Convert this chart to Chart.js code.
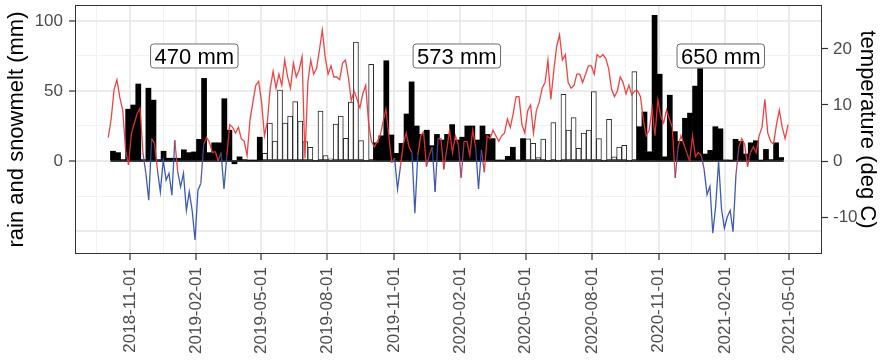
<!DOCTYPE html>
<html>
<head>
<meta charset="utf-8">
<script src="https://cdn.jsdelivr.net/npm/chart.js@4.4.1/dist/chart.umd.min.js"></script>
<style>
  html, body { margin: 0; padding: 0; background: #ffffff; }
  #wrap { width: 883px; height: 360px; }
</style>
</head>
<body>
<div id="wrap"><canvas id="chart" width="883" height="360"></canvas></div>
<script>
// ---- data -------------------------------------------------------------
// Weekly rain + snowmelt (mm); first week starts on firstWeekStart.
const firstWeekStart = '2018-10-05';
const weeklyMm = [
  7, 6, 1, 37, 40, 55, 1, 52, 43.5, 1, 7, 2, 2, 2, 8, 6, 6.5, 15.5, 59, 6,
  13, 13, 44.5, 22, -2, 3, 1, 0.5, 0.5, 17,
  5.5, 27, 14.3, 50.7, 27, 32, 42.4, 28.5, 13.8, 9.8, 0.5, 35.7, 3.8, 1.5, 26.4,
  32, 16.2, 42, 85, 14.5, 0.5, 69,
  13, 18, 71.6, 18.6, 5.5, 12.6, 33.6, 56.5, 25, 19, 22, 11, 19, 15, 19, 26, 15,
  17, 25, 25, 15, 25, 19, 16, 0.5, 0.5, 3.3, 9.8, 0.8, 16,
  15.8, 12.6, 2.5, 15.7, 0.3, 27.4, 0.3, 47.6, 22, 31, 9, 20, 22, 49.5, 16, 0.3,
  29.8, 3, 10, 11.2, 0.3, 63.8,
  24.5, 35, 6.6, 104, 62, 3, 47, 21, 14, 30.5, 34.2, 53.5, 66, 5, 7.6, 24.5, 23,
  0.8, 0.5, 15.5, 14, 5, 13, 14.5, 0.5, 8.3, 1, 13, 2.5
];
// Week index ranges (inclusive) of the summer seasons (open bars).
const summerWeekRanges = [[30, 51], [82, 103]];

// Season totals are written at these dates, at this height (mm).
const totalLabelDates = ['2019-01-29', '2020-01-27', '2021-01-26'];
const totalLabelMm = 75;

// Air temperature (deg C), one value every tempStepDays from tempStart.
const tempStart = '2018-10-02';
const tempStepDays = 4;
const tempC = [
  4.2, 7.5, 12.7, 14.5, 11.3, 9.1, 1.9, -0.7, 4.9, 6.7, 8.5, 9.4, 1.4, -2.2, -7.0, 4.0,
  3.1, -1.6, -5.5, 0.2, -3.4, -2.2, -6.1, 3.7, -1.9, -4.6, -2.2, -8.8, -5.5, -8.8, -14.1, -5.2,
  -4.0, 3.0, 4.2, 3.3, 1.5, 1.7, 0.0, 1.5, -5.0, 1.0, 6.5, 6.0, 5.0, 6.0, 4.0, 3.5, 1.0,
  7.3, 10.5, 13.5, 14.2, 10.5, 4.5, 7.0, 13.0, 16.0, 13.0, 15.5, 13.5, 18.0, 15.0, 13.0, 17.5, 15.0,
  16.3, 18.6, 0.5, 14.0, 18.0, 15.5, 16.5, 19.8, 23.4, 18.5, 15.5, 17.0, 15.0, 15.0, 14.5, 17.5,
  18.0, 15.0, 10.8, 12.5, 11.0, 9.5, 12.0, 13.5, 6.8, 3.5, 2.5, 3.5, 4.5, 7.0, 9.3, 4.5, -0.3, 0.5, -5.0,
  -1.0, 3.0, 5.0, 2.5, 1.5, -9.3, 1.0, 4.5, 5.2, -1.0, 1.0, 2.5, -5.5, 4.0, 4.0, -1.5, 2.0, 5.5,
  1.5, 4.5, 3.0, -3.0, 3.5, 3.5, 1.0, 5.5, 2.5, -5.0, 2.0, -2.0, 4.5, 4.0, 5.5, 4.5, 3.5,
  4.5, 5.0, 7.5, 6.0, 8.5, 11.5, 11.5, 6.5, 5.0, 9.0, 10.0, 5.0, 9.0, 10.5, 13.0, 14.0, 18.0,
  11.0, 16.0, 20.4, 22.5, 18.0, 19.0, 14.0, 13.0, 13.5, 15.5, 15.5, 14.0, 15.5, 17.0, 17.0, 15.5, 19.0, 18.5,
  19.0, 18.3, 16.5, 12.8, 11.5, 12.5, 15.0, 14.0, 12.0, 13.5, 11.8, 12.5, 12.5, 11.5, 7.3, 4.5, 5.5,
  9.5, 4.5, 11.0, 8.0, 6.8, 9.1, 7.5, 6.0, -3.0, 2.5, 4.5, 3.0, 1.5, 0.0, 4.5, 0.8, 1.5,
  1.0, -1.5, -6.0, -4.5, -12.9, -8.0, 0.0, -8.5, -12.0, -10.0, -8.8, -12.6, -2.5, 2.5, 4.0, 3.0,
  -1.0, 1.5, 2.5, 1.5, 4.5, 6.0, 11.0, 5.0, 3.5, 3.0, 6.5, 9.1, 6.0, 4.0, 6.5
];

// Axis breaks and ranges.
const quarterBreaks = ['2018-08-01', '2018-11-01', '2019-02-01', '2019-05-01', '2019-08-01',
  '2019-11-01', '2020-02-01', '2020-05-01', '2020-08-01', '2020-11-01', '2021-02-01',
  '2021-05-01', '2021-08-01'];
const xLimits = ['2018-08-17', '2021-06-15'];
const rainLimits = [-66.4, 111.4];
const rainBreaks = [-50, -25, 0, 25, 50, 75, 100];
const rainLabelled = [0, 50, 100];
const tempBreaks = [-10, 0, 10, 20];
const mmPerDegree = 4;

// ---- helpers ----------------------------------------------------------
const DAY = 86400000;
const ORIGIN = Date.UTC(2018, 10, 1);
function dayOf(s) {
  const [y, m, d] = s.split('-').map(Number);
  return (Date.UTC(y, m - 1, d) - ORIGIN) / DAY;
}
function isoDate(v) {
  return new Date(ORIGIN + Math.round(v) * DAY).toISOString().slice(0, 10);
}
const xMin = dayOf(xLimits[0]);
const xMax = dayOf(xLimits[1]);
const majorDays = quarterBreaks.map(dayOf);
const minorDays = majorDays.slice(1).map((d, i) => (d + majorDays[i]) / 2);
const xTickDays = majorDays.concat(minorDays).filter(d => d >= xMin && d <= xMax).sort((a, b) => a - b);
const isMajorDay = v => majorDays.some(d => Math.abs(d - v) < 0.01);

const weekCenter0 = dayOf(firstWeekStart) + 3.5;
const weekDays = weeklyMm.map((_, i) => weekCenter0 + 7 * i);
const isSummer = i => summerWeekRanges.some(([a, b]) => i >= a && i <= b);
const winterBars = weeklyMm.map((v, i) => ({ x: weekDays[i], y: isSummer(i) ? null : v }));
const summerBars = weeklyMm.map((v, i) => ({ x: weekDays[i], y: isSummer(i) ? v : null }));
const baseline = [{ x: weekDays[0] - 3.5, y: 0 }, { x: weekDays[weekDays.length - 1] + 3.5, y: 0 }];

// Winter blocks lie between the summer ranges; their sums are the labels.
const winterTotals = [];
{
  let start = 0;
  const ends = summerWeekRanges.map(r => r[0]).concat([weeklyMm.length]);
  ends.forEach((end, k) => {
    winterTotals.push(weeklyMm.slice(start, end).reduce((s, v) => s + v, 0));
    start = k < summerWeekRanges.length ? summerWeekRanges[k][1] + 1 : end;
  });
}

const t0 = dayOf(tempStart);
const tempPoints = tempC.map((v, k) => ({ x: t0 + tempStepDays * k, y: v }));

function tempColour(t) {
  const f = Math.max(0, Math.min(1, (t + 1) / 2));
  const r = Math.round(45 + (238 - 45) * f);
  const g = Math.round(78 + (52 - 78) * f);
  const b = Math.round(176 + (52 - 176) * f);
  return `rgba(${r},${g},${b},0.92)`;
}

// Fixed axis sizes so the plotting panel sits at a set place.
function noPadding(s) {
  s.paddingTop = 0; s.paddingBottom = 0; s.paddingLeft = 0; s.paddingRight = 0;
}

// ---- chart ------------------------------------------------------------
const FONT = '"Liberation Sans", Arial, Helvetica, sans-serif';
Chart.defaults.font.family = FONT;

const totalsLabels = {
  id: 'totalsLabels',
  afterDatasetsDraw(chart) {
    const { ctx, scales: { x, y } } = chart;
    ctx.save();
    ctx.font = '22px ' + FONT;
    winterTotals.forEach((mm, k) => {
      const text = Math.round(mm) + ' mm';
      const cx = x.getPixelForValue(dayOf(totalLabelDates[k]));
      const cy = y.getPixelForValue(totalLabelMm);
      const w = ctx.measureText(text).width + 8;
      const h = 24;
      ctx.beginPath();
      ctx.roundRect(cx - w / 2, cy - h / 2, w, h, 3);
      ctx.fillStyle = '#ffffff';
      ctx.fill();
      ctx.lineWidth = 1;
      ctx.strokeStyle = '#6b6b6b';
      ctx.stroke();
      ctx.fillStyle = '#000000';
      ctx.textAlign = 'center';
      ctx.textBaseline = 'alphabetic';
      ctx.fillText(text, cx, cy + 8.5);
    });
    ctx.restore();
  }
};

const panelBorder = {
  id: 'panelBorder',
  afterDraw(chart) {
    const { ctx, chartArea: a } = chart;
    ctx.save();
    ctx.strokeStyle = '#333333';
    ctx.lineWidth = 1;
    ctx.strokeRect(Math.round(a.left) + 0.5, Math.round(a.top) + 0.5,
      Math.round(a.right - a.left) - 1, Math.round(a.bottom - a.top) - 1);
    ctx.restore();
  }
};

new Chart(document.getElementById('chart'), {
  type: 'bar',
  data: {
    datasets: [
      {
        type: 'line', label: 'temperature', data: tempPoints, yAxisID: 'yT',
        borderWidth: 1.3, pointRadius: 0, tension: 0, order: 0,
        borderColor: '#ee3434',
        segment: { borderColor: c => tempColour((c.p0.parsed.y + c.p1.parsed.y) / 2) }
      },
      {
        type: 'line', label: 'zero', data: baseline, yAxisID: 'y',
        borderColor: '#000000', borderWidth: 1.5, pointRadius: 0, order: 1
      },
      {
        label: 'winter', data: winterBars, yAxisID: 'y', grouped: false,
        barPercentage: 1, categoryPercentage: 1,
        backgroundColor: '#000000', borderColor: '#000000', borderWidth: 0, order: 2
      },
      {
        label: 'summer', data: summerBars, yAxisID: 'y', grouped: false,
        barPercentage: 1, categoryPercentage: 1,
        backgroundColor: '#ffffff', borderColor: '#2a2a2a', borderWidth: 1,
        borderSkipped: false, order: 3
      }
    ]
  },
  options: {
    responsive: false,
    animation: false,
    devicePixelRatio: 1,
    layout: { padding: { top: 5, left: 0, right: 0, bottom: 0 } },
    plugins: { legend: { display: false }, tooltip: { enabled: false } },
    scales: {
      x: {
        type: 'linear', position: 'bottom', min: xMin, max: xMax, offset: false,
        afterBuildTicks: s => { s.ticks = xTickDays.map(v => ({ value: v })); },
        afterFit: s => { s.height = 106; noPadding(s); },
        border: { display: false },
        grid: {
          offset: false,
          color: c => (c.tick && isMajorDay(c.tick.value)) ? '#ebebeb' : '#f1f1f1',
          lineWidth: c => (c.tick && isMajorDay(c.tick.value)) ? 2 : 1,
          tickLength: 6,
          tickWidth: 1.2,
          tickColor: c => (c.tick && isMajorDay(c.tick.value)) ? '#333333' : 'rgba(0,0,0,0)'
        },
        ticks: {
          autoSkip: false, minRotation: 90, maxRotation: 90, padding: 7,
          color: '#4d4d4d', font: { size: 17 },
          callback: v => isMajorDay(v) ? isoDate(v) : ''
        }
      },
      y: {
        type: 'linear', position: 'left', min: rainLimits[0], max: rainLimits[1],
        afterBuildTicks: s => { s.ticks = rainBreaks.map(v => ({ value: v })); },
        afterFit: s => { s.width = 75; noPadding(s); },
        border: { display: false },
        grid: {
          color: c => (c.tick && c.tick.value % 50 === 0) ? '#ebebeb' : '#f1f1f1',
          lineWidth: c => (c.tick && c.tick.value % 50 === 0) ? 2 : 1,
          tickLength: 6,
          tickWidth: 1.2,
          tickColor: c => (c.tick && rainLabelled.includes(c.tick.value)) ? '#333333' : 'rgba(0,0,0,0)'
        },
        ticks: {
          padding: 6, color: '#4d4d4d', font: { size: 17 },
          callback: v => rainLabelled.includes(v) ? String(v) : ''
        },
        title: {
          display: true, text: 'rain and snowmelt (mm)', color: '#000000',
          font: { size: 22 }, padding: { top: 4, bottom: 0 }
        }
      },
      yT: {
        type: 'linear', position: 'right',
        min: rainLimits[0] / mmPerDegree, max: rainLimits[1] / mmPerDegree,
        afterBuildTicks: s => { s.ticks = tempBreaks.map(v => ({ value: v })); },
        afterFit: s => { s.width = 61; noPadding(s); },
        border: { display: false },
        grid: { drawOnChartArea: false, tickLength: 6, tickWidth: 1.2, tickColor: '#333333' },
        ticks: {
          padding: 5, color: '#4d4d4d', font: { size: 17 },
          callback: v => String(v)
        },
        title: {
          display: true, text: 'temperature (deg C)', color: '#000000',
          font: { size: 22 }, padding: { top: 3, bottom: 0 }
        }
      }
    }
  },
  plugins: [totalsLabels, panelBorder]
});
</script>
</body>
</html>
